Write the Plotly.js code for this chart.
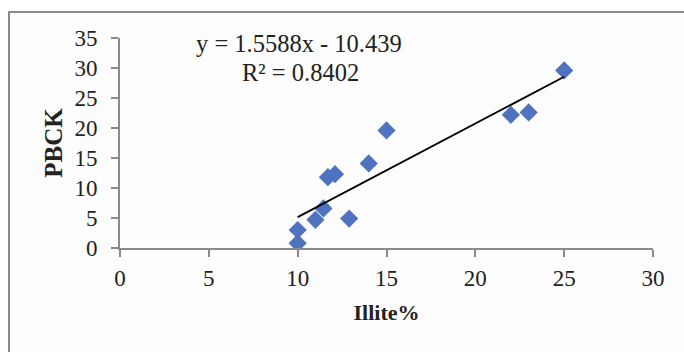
<!DOCTYPE html>
<html><head><meta charset="utf-8">
<script src="https://cdn.plot.ly/plotly-3.0.1.min.js"></script>
<style>
html,body{margin:0;padding:0;background:#fff;width:684px;height:352px;overflow:hidden}
#frame{position:absolute;left:8px;top:11px;width:690px;height:360px;border-left:2px solid #8a8a8a;border-top:2px solid #8a8a8a;background:#fdfdfd}
#chart{position:absolute;left:0;top:0;width:684px;height:352px}
</style></head>
<body>
<div id="frame"></div>
<div id="chart"></div>
<script>
const illite = [10, 10, 11, 11.45, 11.7, 12.1, 12.9, 14, 15, 22, 23, 25];
const pbck   = [0.8, 3.0, 4.7, 6.6, 11.8, 12.3, 4.9, 14.1, 19.6, 22.2, 22.6, 29.6];
const slope = 1.5588, intercept = -10.439, r2 = 0.8402;
const trendX = [10, 25];
const trendY = trendX.map(x => slope * x + intercept);
const xTicks = [0, 5, 10, 15, 20, 25, 30];
const yTicks = [0, 5, 10, 15, 20, 25, 30, 35];

const fam = '"Liberation Serif", "Times New Roman", serif';
const tickFont = {family: fam, color: '#222', size: 23};
const eqFont = {family: fam, color: '#222', size: 24.5};

Plotly.newPlot('chart', [
  {x: illite, y: pbck, mode: 'markers', type: 'scatter',
   marker: {symbol: 'diamond', size: 14, color: '#4F73BE'}},
  {x: trendX, y: trendY, mode: 'lines', type: 'scatter',
   line: {color: '#000', width: 1.8}}
], {
  width: 684, height: 352,
  margin: {l: 120, r: 31, t: 38, b: 104},
  paper_bgcolor: 'rgba(0,0,0,0)', plot_bgcolor: 'rgba(0,0,0,0)',
  showlegend: false,
  font: tickFont,
  xaxis: {range: [0, 30], tickvals: xTicks, showgrid: false, zeroline: false,
          showline: true, linecolor: '#8a8a8a', linewidth: 2,
          ticks: 'outside', ticklen: 7, tickcolor: '#8a8a8a', tickwidth: 2,
          tickfont: tickFont, ticklabelstandoff: 1,
          title: {text: '<b>Illite%</b>', font: {family: fam, color: '#222', size: 22}, standoff: 15}},
  yaxis: {range: [0, 35], tickvals: yTicks, showgrid: false, zeroline: false,
          showline: true, linecolor: '#8a8a8a', linewidth: 2,
          ticks: 'outside', ticklen: 7, tickcolor: '#8a8a8a', tickwidth: 2,
          tickfont: tickFont, ticklabelstandoff: 9,
          title: {text: '<b>PBCK</b>', font: {family: fam, color: '#222', size: 25}, standoff: 5}},
  annotations: [
    {xref: 'paper', yref: 'paper', x: 0.336, y: 0.976, xanchor: 'center', yanchor: 'middle',
     text: 'y = ' + slope + 'x - ' + Math.abs(intercept), showarrow: false, font: eqFont},
    {xref: 'paper', yref: 'paper', x: 0.338, y: 0.838, xanchor: 'center', yanchor: 'middle',
     text: 'R² = ' + r2, showarrow: false, font: eqFont}
  ]
}, {staticPlot: true});
</script>
</body></html>
